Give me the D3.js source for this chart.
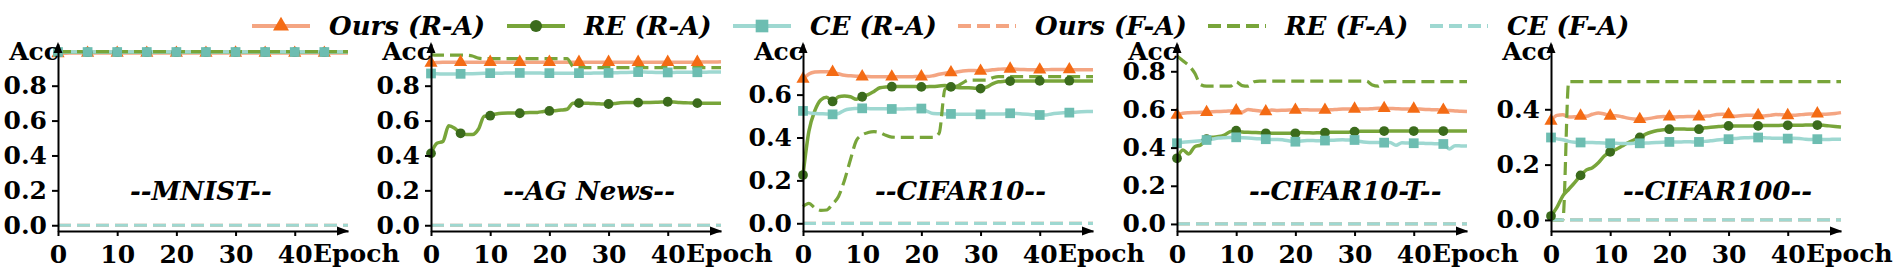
<!DOCTYPE html>
<html>
<head>
<meta charset="utf-8">
<script src="https://cdn.jsdelivr.net/npm/d3@7"></script>
<style>
body { margin: 0; background: #fff; }
</style>
</head>
<body>
<svg id="chart" width="1894" height="272"></svg>
<script>
const SERIES = ["Ours (R-A)", "RE (R-A)", "CE (R-A)", "Ours (F-A)", "RE (F-A)", "CE (F-A)"];
const TITLES = ["--MNIST--", "--AG News--", "--CIFAR10--", "--CIFAR10-T--", "--CIFAR100--"];
const EPOCHS = d3.range(50);
const X_TICKS = [0, 10, 20, 30, 40];
const Y_TICKS = [
    [0, 0.2, 0.4, 0.6, 0.8],
    [0, 0.2, 0.4, 0.6, 0.8],
    [0, 0.2, 0.4, 0.6],
    [0, 0.2, 0.4, 0.6, 0.8],
    [0, 0.2, 0.4]
];
const Y_DOMAINS = [[-0.033, 1.039], [-0.033, 1.039], [-0.036, 0.836], [-0.037, 0.943], [-0.04, 0.636]];

// MNIST
const mnOursRA = [0.985,0.986,0.987,0.987,0.987,0.987,0.987,0.988,0.987,0.987,0.987,0.987,0.987,0.988,0.987,0.987,0.987,0.987,0.987,0.987,0.987,0.987,0.988,0.987,0.987,0.987,0.987,0.987,0.987,0.987,0.988,0.987,0.987,0.987,0.987,0.987,0.987,0.987,0.988,0.987,0.987,0.987,0.987,0.987,0.987,0.987,0.987,0.988,0.987,0.987];
const mnReRA = [0.992,0.992,0.992,0.992,0.992,0.992,0.992,0.992,0.992,0.992,0.992,0.992,0.992,0.992,0.992,0.992,0.992,0.992,0.992,0.992,0.992,0.992,0.992,0.992,0.992,0.992,0.992,0.992,0.992,0.992,0.992,0.992,0.992,0.992,0.992,0.992,0.992,0.992,0.992,0.992,0.992,0.992,0.992,0.992,0.992,0.992,0.992,0.992,0.992,0.992];
const mnCeRA = [0.993,0.993,0.993,0.993,0.993,0.993,0.993,0.993,0.993,0.993,0.993,0.993,0.993,0.993,0.993,0.993,0.993,0.993,0.993,0.993,0.993,0.993,0.993,0.993,0.993,0.993,0.993,0.993,0.993,0.993,0.993,0.993,0.993,0.993,0.993,0.993,0.993,0.993,0.993,0.993,0.993,0.993,0.993,0.993,0.993,0.993,0.993,0.993,0.993,0.993];
const mnOursFA = [0,0,0,0,0,0,0,0,0,0,0,0,0,0,0,0,0,0,0,0,0,0,0,0,0,0,0,0,0,0,0,0,0,0,0,0,0,0,0,0,0,0,0,0,0,0,0,0,0,0];
const mnReFA = [0.995,0.995,0.995,0.995,0.995,0.995,0.995,0.995,0.995,0.995,0.995,0.995,0.995,0.995,0.995,0.995,0.995,0.995,0.995,0.995,0.995,0.995,0.995,0.995,0.995,0.995,0.995,0.995,0.995,0.995,0.995,0.995,0.995,0.995,0.995,0.995,0.995,0.995,0.995,0.995,0.995,0.995,0.995,0.995,0.995,0.995,0.995,0.995,0.995,0.995];
const mnCeFA = [0,0,0,0,0,0,0,0,0,0,0,0,0,0,0,0,0,0,0,0,0,0,0,0,0,0,0,0,0,0,0,0,0,0,0,0,0,0,0,0,0,0,0,0,0,0,0,0,0,0];

// AG News
const agOursRA = [0.930,0.933,0.935,0.935,0.935,0.935,0.935,0.935,0.935,0.935,0.935,0.935,0.935,0.935,0.935,0.935,0.935,0.935,0.935,0.935,0.935,0.935,0.935,0.935,0.935,0.935,0.935,0.935,0.935,0.935,0.935,0.935,0.935,0.935,0.935,0.935,0.935,0.935,0.935,0.935,0.935,0.935,0.935,0.935,0.935,0.935,0.936,0.936,0.936,0.937];
const agReRA = [0.412,0.470,0.480,0.570,0.556,0.527,0.520,0.520,0.550,0.625,0.628,0.638,0.642,0.643,0.643,0.642,0.645,0.646,0.647,0.652,0.655,0.657,0.660,0.665,0.700,0.700,0.700,0.698,0.697,0.695,0.695,0.698,0.702,0.703,0.703,0.703,0.703,0.704,0.705,0.706,0.708,0.706,0.703,0.702,0.701,0.700,0.700,0.700,0.700,0.700];
const agCeRA = [0.870,0.868,0.867,0.867,0.867,0.868,0.868,0.869,0.870,0.871,0.872,0.872,0.872,0.873,0.873,0.873,0.873,0.873,0.873,0.872,0.872,0.872,0.872,0.872,0.872,0.872,0.872,0.872,0.873,0.873,0.873,0.874,0.875,0.876,0.877,0.878,0.878,0.877,0.876,0.876,0.876,0.876,0.877,0.877,0.877,0.877,0.877,0.878,0.878,0.878];
const agOursFA = [0,0,0,0,0,0,0,0,0,0,0,0,0,0,0,0,0,0,0,0,0,0,0,0,0,0,0,0,0,0,0,0,0,0,0,0,0,0,0,0,0,0,0,0,0,0,0,0,0,0];
const agReFA = [0.978,0.975,0.975,0.975,0.975,0.975,0.975,0.970,0.958,0.955,0.955,0.955,0.955,0.955,0.955,0.955,0.955,0.955,0.955,0.955,0.955,0.955,0.955,0.955,0.910,0.905,0.904,0.904,0.904,0.904,0.904,0.904,0.904,0.904,0.904,0.904,0.904,0.904,0.904,0.904,0.904,0.904,0.904,0.904,0.904,0.904,0.904,0.904,0.904,0.904];
const agCeFA = [0,0,0,0,0,0,0,0,0,0,0,0,0,0,0,0,0,0,0,0,0,0,0,0,0,0,0,0,0,0,0,0,0,0,0,0,0,0,0,0,0,0,0,0,0,0,0,0,0,0];

// CIFAR10
const c10OursRA = [0.673,0.696,0.705,0.707,0.707,0.705,0.697,0.690,0.688,0.686,0.684,0.684,0.683,0.683,0.683,0.683,0.683,0.683,0.683,0.684,0.684,0.684,0.688,0.695,0.700,0.703,0.705,0.710,0.712,0.712,0.710,0.712,0.716,0.718,0.720,0.720,0.718,0.717,0.716,0.716,0.716,0.716,0.717,0.717,0.717,0.717,0.716,0.716,0.716,0.716];
const c10ReRA = [0.225,0.430,0.525,0.575,0.588,0.568,0.590,0.593,0.590,0.578,0.590,0.600,0.615,0.632,0.636,0.637,0.638,0.638,0.638,0.638,0.636,0.637,0.638,0.640,0.642,0.636,0.633,0.632,0.632,0.630,0.628,0.635,0.650,0.660,0.662,0.663,0.663,0.663,0.663,0.663,0.664,0.664,0.664,0.664,0.664,0.665,0.664,0.664,0.664,0.664];
const c10CeRA = [0.524,0.515,0.512,0.511,0.510,0.508,0.512,0.527,0.533,0.535,0.536,0.535,0.534,0.534,0.534,0.533,0.533,0.533,0.534,0.535,0.535,0.522,0.512,0.511,0.510,0.510,0.509,0.509,0.509,0.509,0.508,0.510,0.510,0.510,0.510,0.513,0.512,0.510,0.508,0.506,0.505,0.505,0.510,0.513,0.515,0.516,0.518,0.520,0.521,0.521];
const c10OursFA = [0,0,0,0,0,0,0,0,0,0,0,0,0,0,0,0,0,0,0,0,0,0,0,0,0,0,0,0,0,0,0,0,0,0,0,0,0,0,0,0,0,0,0,0,0,0,0,0,0,0];
const c10ReFA = [0.078,0.093,0.072,0.060,0.062,0.090,0.125,0.200,0.295,0.385,0.412,0.423,0.427,0.423,0.410,0.402,0.401,0.401,0.401,0.401,0.401,0.401,0.401,0.420,0.625,0.637,0.640,0.655,0.668,0.668,0.668,0.668,0.678,0.684,0.684,0.684,0.684,0.684,0.684,0.684,0.684,0.684,0.684,0.684,0.684,0.684,0.684,0.684,0.684,0.684];
const c10CeFA = [0,0,0,0,0,0,0,0,0,0,0,0,0,0,0,0,0,0,0,0,0,0,0,0,0,0,0,0,0,0,0,0,0,0,0,0,0,0,0,0,0,0,0,0,0,0,0,0,0,0];

// CIFAR10-T
const c10tOursRA = [0.571,0.580,0.583,0.584,0.585,0.585,0.588,0.589,0.590,0.592,0.594,0.585,0.600,0.596,0.592,0.589,0.597,0.595,0.596,0.597,0.597,0.598,0.598,0.597,0.597,0.597,0.598,0.600,0.602,0.603,0.603,0.602,0.602,0.604,0.606,0.606,0.605,0.604,0.603,0.603,0.603,0.602,0.600,0.599,0.598,0.597,0.594,0.592,0.590,0.589];
const c10tReRA = [0.344,0.388,0.367,0.405,0.414,0.444,0.454,0.458,0.466,0.484,0.489,0.482,0.480,0.479,0.478,0.475,0.475,0.475,0.475,0.475,0.475,0.479,0.478,0.477,0.478,0.479,0.481,0.481,0.481,0.481,0.484,0.486,0.486,0.486,0.486,0.487,0.487,0.487,0.487,0.487,0.487,0.487,0.487,0.487,0.487,0.487,0.487,0.487,0.487,0.487];
const c10tCeRA = [0.423,0.428,0.431,0.433,0.436,0.440,0.445,0.450,0.452,0.453,0.454,0.452,0.450,0.448,0.446,0.444,0.443,0.443,0.440,0.435,0.431,0.435,0.437,0.437,0.436,0.437,0.438,0.440,0.441,0.440,0.440,0.432,0.428,0.427,0.427,0.426,0.427,0.412,0.425,0.424,0.423,0.423,0.422,0.421,0.420,0.419,0.393,0.410,0.409,0.408];
const c10tOursFA = [0,0,0,0,0,0,0,0,0,0,0,0,0,0,0,0,0,0,0,0,0,0,0,0,0,0,0,0,0,0,0,0,0,0,0,0,0,0,0,0,0,0,0,0,0,0,0,0,0,0];
const c10tReFA = [0.880,0.855,0.830,0.790,0.730,0.722,0.722,0.722,0.722,0.722,0.745,0.725,0.722,0.745,0.748,0.748,0.748,0.748,0.748,0.748,0.748,0.748,0.748,0.748,0.748,0.748,0.748,0.748,0.748,0.748,0.748,0.748,0.748,0.728,0.722,0.745,0.746,0.746,0.746,0.746,0.746,0.746,0.746,0.746,0.746,0.746,0.746,0.746,0.746,0.746];
const c10tCeFA = [0,0,0,0,0,0,0,0,0,0,0,0,0,0,0,0,0,0,0,0,0,0,0,0,0,0,0,0,0,0,0,0,0,0,0,0,0,0,0,0,0,0,0,0,0,0,0,0,0,0];

// CIFAR100
const c100OursRA = [0.358,0.378,0.380,0.372,0.373,0.376,0.375,0.382,0.387,0.383,0.376,0.377,0.373,0.368,0.365,0.364,0.365,0.368,0.372,0.374,0.373,0.372,0.373,0.374,0.374,0.373,0.375,0.377,0.381,0.382,0.381,0.375,0.377,0.378,0.378,0.378,0.376,0.378,0.381,0.380,0.378,0.378,0.380,0.382,0.383,0.384,0.382,0.383,0.385,0.388];
const c100ReRA = [0.014,0.045,0.087,0.111,0.135,0.161,0.181,0.189,0.207,0.231,0.246,0.255,0.267,0.279,0.289,0.298,0.310,0.318,0.323,0.326,0.328,0.329,0.329,0.328,0.328,0.328,0.333,0.335,0.337,0.339,0.340,0.340,0.340,0.340,0.340,0.340,0.341,0.341,0.341,0.342,0.342,0.342,0.342,0.343,0.343,0.343,0.342,0.340,0.338,0.336];
const c100CeRA = [0.298,0.293,0.290,0.284,0.281,0.280,0.280,0.280,0.279,0.278,0.277,0.277,0.276,0.276,0.277,0.277,0.278,0.279,0.280,0.281,0.282,0.282,0.282,0.283,0.282,0.282,0.284,0.286,0.289,0.291,0.292,0.294,0.296,0.297,0.298,0.298,0.297,0.296,0.295,0.295,0.294,0.295,0.294,0.292,0.291,0.292,0.291,0.291,0.292,0.292];
const c100OursFA = [0,0,0,0,0,0,0,0,0,0,0,0,0,0,0,0,0,0,0,0,0,0,0,0,0,0,0,0,0,0,0,0,0,0,0,0,0,0,0,0,0,0,0,0,0,0,0,0,0,0];
const c100ReFA = [0,0,0,0.5,0.5,0.5,0.5,0.5,0.5,0.5,0.5,0.5,0.5,0.5,0.5,0.5,0.5,0.5,0.5,0.5,0.5,0.5,0.5,0.5,0.5,0.5,0.5,0.5,0.5,0.5,0.5,0.5,0.5,0.5,0.5,0.5,0.5,0.5,0.5,0.5,0.5,0.5,0.5,0.5,0.5,0.5,0.5,0.5,0.5,0.5];
const c100CeFA = [0,0,0,0,0,0,0,0,0,0,0,0,0,0,0,0,0,0,0,0,0,0,0,0,0,0,0,0,0,0,0,0,0,0,0,0,0,0,0,0,0,0,0,0,0,0,0,0,0,0];

const PANEL_VALUES = [
    [mnOursRA, mnReRA, mnCeRA, mnOursFA, mnReFA, mnCeFA],
    [agOursRA, agReRA, agCeRA, agOursFA, agReFA, agCeFA],
    [c10OursRA, c10ReRA, c10CeRA, c10OursFA, c10ReFA, c10CeFA],
    [c10tOursRA, c10tReRA, c10tCeRA, c10tOursFA, c10tReFA, c10tCeFA],
    [c100OursRA, c100ReRA, c100CeRA, c100OursFA, c100ReFA, c100CeFA]
];

const LINE_COLORS = ["#f4a582", "#78a53a", "#9ed8d1", "#f4a582", "#78a53a", "#9ed8d1"];
const MARK_COLORS = ["#f46b14", "#3b6b1c", "#6dbdb1"];
const MARK_SHAPES = [d3.symbolTriangle, d3.symbolCircle, d3.symbolSquare];
const MARK_EVERY = 5;

const svg = d3.select("#chart");
const panelLeft = [58, 431, 803, 1177, 1551];
const legendLeft = [252, 507, 733, 958, 1208, 1430];
const plotW = 290, yBottom = 231, yTop = 44;
const fmt = d3.format(".1f");

function arrowUp(g, x, y) {
    g.append("path").attr("d", `M${x - 4.5},${y + 11}L${x},${y}L${x + 4.5},${y + 11}Z`).attr("fill", "#000");
}
function arrowRight(g, x, y) {
    g.append("path").attr("d", `M${x - 12},${y - 4.5}L${x},${y}L${x - 12},${y + 4.5}Z`).attr("fill", "#000");
}
// bold serif text, set through presentation attributes
function serif(sel, size, italic) {
    return sel
        .attr("font-family", "DejaVu Serif")
        .attr("font-weight", "bold")
        .attr("font-style", italic ? "italic" : null)
        .attr("font-size", size)
        .attr("fill", "#000");
}

PANEL_VALUES.forEach((vals, i) => {
    const x0 = panelLeft[i];
    const x = d3.scaleLinear().domain([0, 49]).range([x0, x0 + plotW]);
    const y = d3.scaleLinear().domain(Y_DOMAINS[i]).range([yBottom, yTop]);
    const g = svg.append("g");

    const line = d3.line()
        .x((d, j) => x(EPOCHS[j]))
        .y(d => y(d))
        .curve(d3.curveMonotoneX);

    vals.forEach((v, k) => {
        g.append("path")
            .datum(v)
            .attr("d", line)
            .attr("fill", "none")
            .attr("stroke", LINE_COLORS[k])
            .attr("stroke-width", k < 3 ? 3.5 : 3.2)
            .attr("stroke-dasharray", k < 3 ? null : "13,6");
    });

    // markers on R-A series, every 5 epochs
    vals.slice(0, 3).forEach((v, k) => {
        const sizes = [75, 75, 95];
        g.selectAll(null)
            .data(v.map((d, j) => [j, d]).filter(p => p[0] % MARK_EVERY === 0))
            .enter()
            .append("path")
            .attr("d", d3.symbol().type(MARK_SHAPES[k]).size(sizes[k]))
            .attr("transform", p => `translate(${x(p[0])},${y(p[1])})`)
            .attr("fill", MARK_COLORS[k]);
    });

    // axes
    const ax = g.append("g")
        .attr("transform", `translate(0,${yBottom})`)
        .call(d3.axisBottom(x).tickValues(X_TICKS).tickSize(5).tickPadding(9).tickSizeOuter(0));
    const ay = g.append("g")
        .attr("transform", `translate(${x0},0)`)
        .call(d3.axisLeft(y).tickValues(Y_TICKS[i]).tickFormat(fmt).tickSize(6).tickPadding(5).tickSizeOuter(0));
    [ax, ay].forEach(a => {
        a.attr("font-family", null).attr("font-size", null);
        a.selectAll("path, line").attr("stroke", "#000").attr("stroke-width", 2);
        serif(a.selectAll("text"), 25, false);
    });
    arrowUp(g, x0, yTop - 2);
    arrowRight(g, x0 + plotW + 1, yBottom);

    serif(g.append("text"), 25, false)
        .attr("x", x0 + 1).attr("y", 60)
        .attr("text-anchor", "end")
        .text("Acc");
    serif(g.append("text"), 25, false)
        .attr("x", x0 + 255).attr("y", 262)
        .text("Epoch");
    serif(g.append("text"), 26, true)
        .attr("x", x0 + 72).attr("y", 200)
        .text(TITLES[i]);
});

// legend
SERIES.forEach((s, k) => {
    const item = svg.append("g").attr("transform", `translate(${legendLeft[k]},26)`);
    item.append("line")
        .attr("x1", 0).attr("x2", 58)
        .attr("stroke", LINE_COLORS[k])
        .attr("stroke-width", 4)
        .attr("stroke-dasharray", k < 3 ? null : "13,6");
    if (k < 3) {
        const sizes = [110, 115, 160];
        item.append("path")
            .attr("d", d3.symbol().type(MARK_SHAPES[k]).size(sizes[k]))
            .attr("transform", "translate(29,0)")
            .attr("fill", MARK_COLORS[k]);
    }
    serif(item.append("text"), 26, true).attr("x", 77).attr("y", 9).text(s);
});
</script>
</body>
</html>
